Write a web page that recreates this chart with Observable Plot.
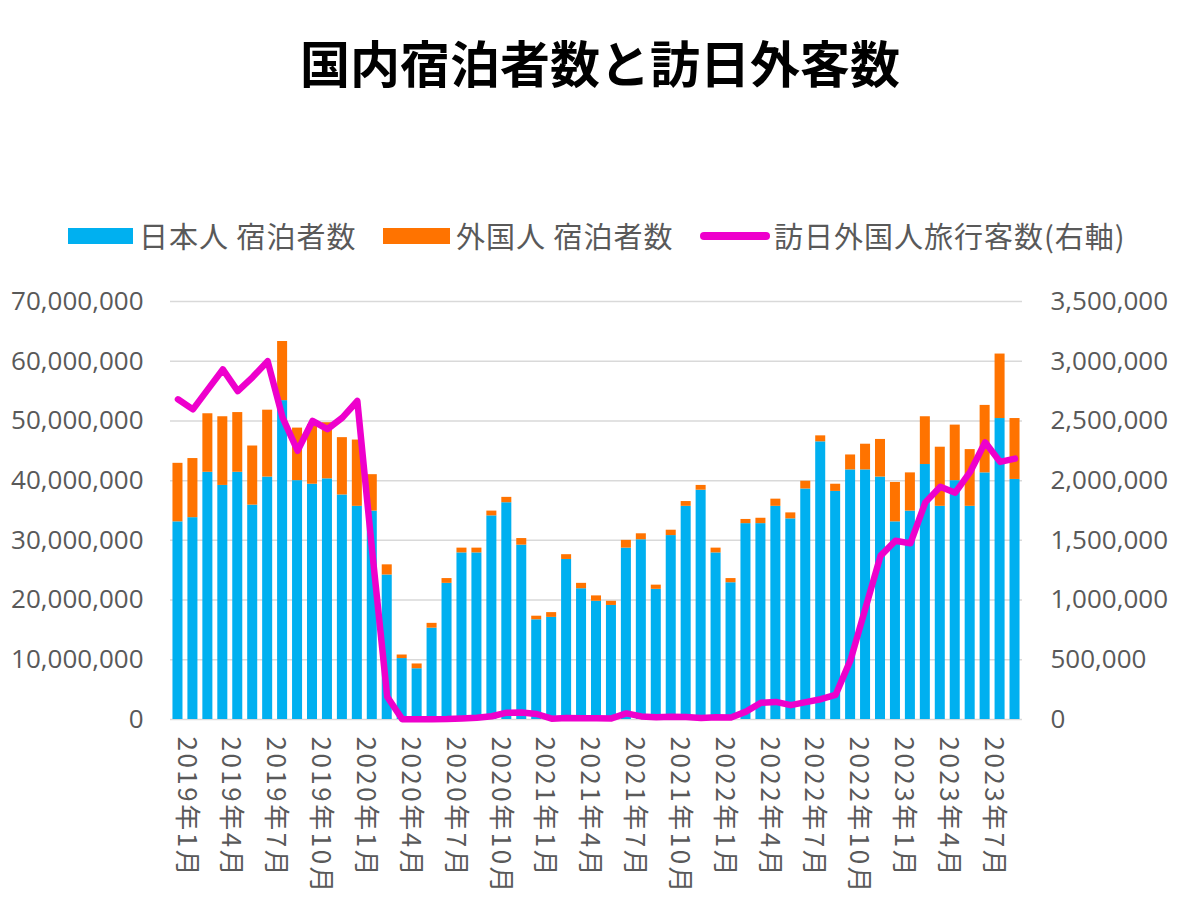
<!DOCTYPE html>
<html>
<head>
<meta charset="utf-8">
<script src="https://cdn.jsdelivr.net/npm/d3@7"></script>
<script src="https://cdn.jsdelivr.net/npm/@observablehq/plot@0.6"></script>
<style>
  body { margin: 0; background: #fff; }
  #wrap { position: relative; width: 1200px; height: 914px; overflow: hidden; font-family: "Noto Sans CJK JP", "Noto Sans", sans-serif; }
  #title { position: absolute; top: 28px; left: 0; width: 1200px; text-align: center; font-size: 50px; font-weight: 700; line-height: 66px; color: #000; }
  .sw { position: absolute; }
  .lt { position: absolute; font-size: 29px; letter-spacing: 1px; line-height: 32px; color: #595959; white-space: nowrap; }
  #chart { position: absolute; top: 270px; left: 0; }
  #chart g[aria-label="x-axis tick label"] text { letter-spacing: 2.5px; }
</style>
</head>
<body>
<div id="wrap">
  <div id="title">国内宿泊者数と訪日外客数</div>
  <div class="sw" style="left:68px;top:228px;width:65px;height:16px;background:#00b0f0"></div>
  <div class="lt" style="left:139px;top:219px">日本人 宿泊者数</div>
  <div class="sw" style="left:383px;top:228px;width:67px;height:16px;background:#ff7300"></div>
  <div class="lt" style="left:456px;top:219px">外国人 宿泊者数</div>
  <div class="sw" style="left:700px;top:232px;width:70px;height:8px;border-radius:4px;background:#ee00cc"></div>
  <div class="lt" style="left:774px;top:219px">訪日外国人旅行客数(右軸)</div>
  <div id="chart"></div>
</div>
<script>
const months = [
  "2019年1月","2019年2月","2019年3月","2019年4月","2019年5月","2019年6月","2019年7月","2019年8月","2019年9月","2019年10月","2019年11月","2019年12月",
  "2020年1月","2020年2月","2020年3月","2020年4月","2020年5月","2020年6月","2020年7月","2020年8月","2020年9月","2020年10月","2020年11月","2020年12月",
  "2021年1月","2021年2月","2021年3月","2021年4月","2021年5月","2021年6月","2021年7月","2021年8月","2021年9月","2021年10月","2021年11月","2021年12月",
  "2022年1月","2022年2月","2022年3月","2022年4月","2022年5月","2022年6月","2022年7月","2022年8月","2022年9月","2022年10月","2022年11月","2022年12月",
  "2023年1月","2023年2月","2023年3月","2023年4月","2023年5月","2023年6月","2023年7月","2023年8月","2023年9月"
];
const tickMonths = [
  "2019年1月","2019年4月","2019年7月","2019年10月","2020年1月","2020年4月","2020年7月","2020年10月",
  "2021年1月","2021年4月","2021年7月","2021年10月","2022年1月","2022年4月","2022年7月","2022年10月",
  "2023年1月","2023年4月","2023年7月"
];
// 日本人 宿泊者数 (百万人)
const japanese = [
  33.1, 33.8, 41.4, 39.2, 41.4, 35.9, 40.6, 53.4, 40.0, 39.4, 40.3, 37.6,
  35.7, 34.9, 24.2, 10.2, 8.5, 15.3, 22.8, 27.9, 27.9, 34.1, 36.3, 29.2,
  16.7, 17.1, 26.8, 21.9, 19.8, 19.1, 28.7, 30.1, 21.8, 30.8, 35.7, 38.4,
  27.9, 22.9, 32.8, 32.8, 35.7, 33.6, 38.6, 46.5, 38.2, 41.8, 41.8, 40.6,
  33.1, 34.9, 42.7, 35.7, 40.0, 35.7, 41.3, 50.4, 40.2
];
// 外国人 宿泊者数 (百万人)
const foreign = [
  9.8, 9.9, 9.8, 11.5, 10.0, 9.9, 11.2, 9.9, 8.8, 10.0, 9.4, 9.6,
  11.1, 6.1, 1.7, 0.6, 0.8, 0.8, 0.8, 0.8, 0.8, 0.8, 0.9, 1.1,
  0.6, 0.8, 0.8, 0.9, 0.9, 0.7, 1.3, 1.0, 0.7, 0.9, 0.8, 0.8,
  0.8, 0.7, 0.7, 0.9, 1.2, 1.0, 1.3, 1.0, 1.2, 2.5, 4.3, 6.3,
  6.6, 6.4, 8.0, 9.9, 9.3, 9.5, 11.3, 10.8, 10.2
];
// 訪日外国人旅行客数 (千人, 右軸)
const visitors = [
  2681, 2597, 2764, 2931, 2750, 2867, 3000, 2528, 2250, 2500, 2431, 2528,
  2667, 1400, 190, 3, 2, 3, 4, 9, 14, 27, 57, 59,
  46, 7, 12, 11, 10, 9, 51, 26, 18, 22, 21, 12,
  18, 17, 66, 140, 147, 120, 145, 170, 207, 499, 934, 1370,
  1497, 1475, 1818, 1949, 1899, 2073, 2321, 2157, 2184
];
const leftTicks = [0, 10e6, 20e6, 30e6, 40e6, 50e6, 60e6, 70e6];
const seriesNames = ["日本人 宿泊者数", "外国人 宿泊者数"];
const colors = ["#00b0f0", "#ff7300"];
const lineColor = "#ee00cc";
const ratio = 20; // 左軸 / 右軸

const rows = [];
months.forEach((m, i) => {
  rows.push({month: m, type: seriesNames[0], value: japanese[i] * 1e6});
  rows.push({month: m, type: seriesNames[1], value: foreign[i] * 1e6});
});
const lineRows = months.map((m, i) => ({month: m, v: visitors[i] * 1000}));
const fmt = d3.format(",");

const chart = Plot.plot({
  width: 1200,
  height: 644,
  marginTop: 31,
  marginBottom: 195,
  marginLeft: 170,
  marginRight: 178,
  style: {fontFamily: "'Open Sans', 'Noto Sans CJK JP', sans-serif", background: "#fff"},
  x: {type: "band", domain: months, paddingInner: 0.33, paddingOuter: 0.165, label: null, axis: null},
  y: {domain: [0, 70e6], label: null, axis: null},
  color: {domain: seriesNames, range: colors},
  marks: [
    Plot.gridY(leftTicks, {stroke: "#d9d9d9", strokeOpacity: 1, strokeWidth: 1.5}),
    Plot.barY(rows, {x: "month", y: "value", fill: "type"}),
    Plot.line(lineRows, {x: "month", y: d => d.v * ratio, stroke: lineColor, strokeWidth: 6.5, strokeLinejoin: "round", strokeLinecap: "round"}),
    Plot.axisY(leftTicks, {anchor: "left", tickFormat: fmt, tickSize: 0, tickPadding: 27, fontSize: 26, fill: "#595959", label: null}),
    Plot.axisY(leftTicks, {anchor: "right", tickFormat: d => fmt(d / ratio), tickSize: 0, tickPadding: 28, fontSize: 26, fill: "#595959", label: null}),
    Plot.axisX(tickMonths, {tickRotate: 90, tickSize: 0, tickPadding: 17, fontSize: 26, fill: "#595959", fontFamily: "'Noto Sans CJK JP', sans-serif", label: null, dx: 8})
  ]
});
document.getElementById("chart").appendChild(chart);
</script>
</body>
</html>
